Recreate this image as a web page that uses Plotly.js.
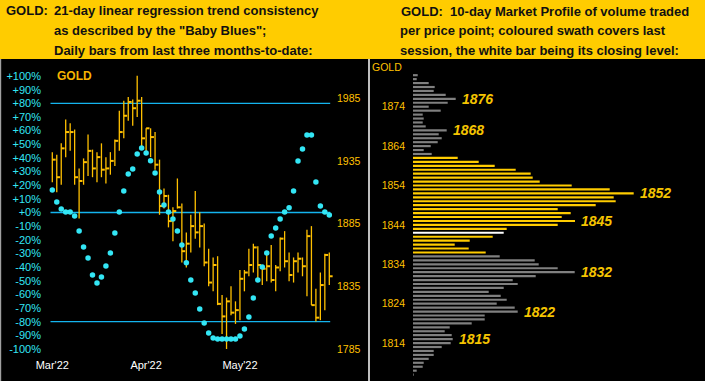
<!DOCTYPE html>
<html><head><meta charset="utf-8">
<script src="https://cdn.plot.ly/plotly-3.0.1.min.js"></script>
<style>html,body{margin:0;padding:0;background:#000;} #chart{width:705px;height:381px;}</style>
</head><body><div id="chart"></div>
<script>
// ---- Left panel data: daily bars (price) and "Baby Blues" (%) ----
const monthLabels = ["Mar'22", "Apr'22", "May'22"];
const monthStartIndex = [0, 21, 42];

const high = [1942,1940,1949,1968,1965,1960,1929,1937,1956,1944,1942,1949,1938,1942,1952,1975,1983,1986,1984,2003,1986,
              1961,1961,1958,1936,1913,1908,1898,1921,1901,1878,1892,1911,1894,1885,1865,1858,1859,1828,1826,1835,1823,
              1848,1848,1865,1869,1867,1852,1862,1868,1852,1874,1879,1862,1858,1862,1858,1880,1883,1833,1846,1861,1862];
const low  = [1918,1910,1916,1938,1943,1916,1889,1916,1923,1922,1918,1922,1917,1924,1931,1943,1953,1967,1963,1970,1946,
              1942,1938,1928,1892,1897,1882,1871,1897,1854,1850,1862,1873,1866,1851,1835,1831,1820,1797,1785,1812,1805,
              1808,1831,1843,1846,1839,1836,1839,1838,1831,1847,1850,1839,1838,1846,1843,1827,1820,1807,1808,1816,1836];
const close = [1936,1922,1945,1958,1958,1922,1919,1934,1943,1929,1938,1928,1929,1935,1951,1958,1971,1982,1977,1983,1953,
               1961,1954,1932,1899,1907,1887,1895,1898,1863,1869,1883,1878,1883,1854,1838,1852,1821,1811,1823,1814,1816,
               1841,1846,1852,1866,1852,1849,1851,1840,1850,1873,1855,1844,1855,1857,1851,1875,1820,1810,1836,1860,1843];
const babyBlues = [16.5,7.7,2.6,0.4,0.4,-2.6,-13.6,-25.3,-33.3,-45.8,-51.6,-47.3,-39.2,-29.7,-15.0,0.4,15.7,28.2,31.9,42.9,47.3,
                   43.6,38.0,28.9,15.0,5.5,0.4,-4.8,-13.6,-23.8,-36.8,-49.5,-59.0,-70.7,-81.0,-88.3,-91.9,-92.7,-92.7,-92.7,-92.7,-92.7,
                   -90.5,-85.3,-76.6,-62.6,-49.5,-39.9,-29.7,-17.2,-11.4,-4.8,0.4,3.5,15.7,37.7,46.5,56.8,56.8,22.3,4.8,0.4,-1.8];
const pctTicks = [100,90,80,70,60,50,40,30,20,10,0,-10,-20,-30,-40,-50,-60,-70,-80,-90,-100];
const pctTickText = ["+100%","+90%","+80%","+70%","+60%","+50%","+40%","+30%","+20%","+10%","+0%",
                     "-10%","-20%","-30%","-40%","-50%","-60%","-70%","-80%","-90%","-100%"];
const pctLevels = [80, 0, -80];
const priceTicks = [1785, 1835, 1885, 1935, 1985];

// ---- Right panel data: 10-day market profile ----
const profilePrice = [1882,1881,1880,1879,1878,1877,1876,1875,1874,1873,1872,1871,1870,1869,1868,1867,1866,1865,1864,1863,
                      1862,1861,1860,1859,1858,1857,1856,1855,1854,1853,1852,1851,1850,1849,1848,1847,1846,1845,1844,1843,
                      1842,1841,1840,1839,1838,1837,1836,1835,1834,1833,1832,1831,1830,1829,1828,1827,1826,1825,1824,1823,
                      1822,1821,1820,1819,1818,1817,1816,1815,1814,1813,1812,1811,1810,1809,1808,1807,1806];
const profileVolume = [4.7,3.7,15.7,21.7,20.7,32.7,42.7,34.7,15.7,27.7,9.7,10.7,9.7,12.7,33.7,25.7,28.7,24.7,17.7,10.7,
                       18.7,44.7,65.7,81.7,102.7,117.7,119.7,126.7,158.7,196.7,220.7,200.7,202.7,182.7,144.7,157.7,148.7,162,144.7,93.7,
                       90.7,79.7,56.7,41.7,55.7,72.7,86.7,121.7,125.7,144.7,161.7,122.7,99.7,104.7,90.7,75.7,87.7,93.7,83.7,101.7,
                       104.7,71.7,71.7,58.7,36.7,31.7,38.7,39.7,37.7,28.7,20.7,20.7,15.7,10.7,9.7,3.7,0.7];
const sessionHigh = 1861, sessionLow = 1837, sessionClose = 1842;
const profileLabels = [1876, 1868, 1852, 1845, 1832, 1822, 1815];
const profileTicks = [1814, 1824, 1834, 1844, 1854, 1864, 1874];

// ---- Styles ----
const GOLD = '#FFC000', CYAN = '#33E6F5', LINEBLUE = '#14B4EE', YEL = '#FFCC00', GREY = '#808080';
const FONT = 'Liberation Sans, Arial, sans-serif';

const idx = close.map((_, i) => i);
const vx = [], vy = [], tx = [], ty = [];
idx.forEach(i => {
  vx.push(i, i, null); vy.push(low[i], high[i], null);
  tx.push(i, i + 0.75, null); ty.push(close[i], close[i], null);
});

const profileColors = profilePrice.map(p =>
  p === sessionClose ? '#FFFFFF' : (p <= sessionHigh && p >= sessionLow ? YEL : GREY));

const traces = [
  {type:'scatter', mode:'lines', x:vx, y:vy, xaxis:'x', yaxis:'y', line:{color:GOLD, width:1.3}, hoverinfo:'skip'},
  {type:'scatter', mode:'lines', x:tx, y:ty, xaxis:'x', yaxis:'y', line:{color:GOLD, width:2}, hoverinfo:'skip'},
  {type:'scatter', mode:'markers', x:idx, y:babyBlues, xaxis:'x', yaxis:'y2', marker:{symbol:'circle', size:5.5, color:CYAN}, hoverinfo:'skip'},
  {type:'bar', orientation:'h', x:profileVolume, y:profilePrice, width:0.55, xaxis:'x2', yaxis:'y3', marker:{color:profileColors, line:{width:0}}, hoverinfo:'skip'}
];

const py = y => 1 - y / 381;
const shapes = [
  {type:'rect', xref:'paper', yref:'paper', x0:0, x1:1, y0:py(59), y1:1, fillcolor:YEL, line:{width:0}, layer:'below'},
  {type:'line', xref:'paper', yref:'paper', x0:369/705, x1:369/705, y0:0, y1:py(59), line:{color:'#FFFFFF', width:1.5}},
  {type:'line', xref:'paper', yref:'paper', x0:0.6/705, x1:0.6/705, y0:0, y1:py(59), line:{color:'#A0A0A0', width:1.2}}
];
pctLevels.forEach(v => shapes.push({type:'line', xref:'x', yref:'y2', x0:-0.4, x1:62.2, y0:v, y1:v, line:{color:LINEBLUE, width:1.3}, layer:'below'}));

const hdr = {family:FONT, size:13, color:'#111111', weight:'bold'};
const annotations = [
  {xref:'paper', yref:'paper', x:4/705, y:py(11), xanchor:'left', yanchor:'middle', showarrow:false, text:'<b>GOLD:</b>', font:hdr},
  {xref:'paper', yref:'paper', x:52/705, y:py(11), xanchor:'left', yanchor:'middle', showarrow:false, text:'<b>21-day linear regression trend consistency</b>', font:hdr},
  {xref:'paper', yref:'paper', x:52/705, y:py(30.5), xanchor:'left', yanchor:'middle', showarrow:false, text:'<b>as described by the "Baby Blues";</b>', font:hdr},
  {xref:'paper', yref:'paper', x:52/705, y:py(50.5), xanchor:'left', yanchor:'middle', showarrow:false, text:'<b>Daily bars from last three months-to-date:</b>', font:hdr},
  {xref:'paper', yref:'paper', x:399/705, y:py(11.5), xanchor:'left', yanchor:'middle', showarrow:false, text:'<b>GOLD:\u00A0\u00A010-day Market Profile of volume traded</b>', font:hdr},
  {xref:'paper', yref:'paper', x:398/705, y:py(30.5), xanchor:'left', yanchor:'middle', showarrow:false, text:'<b>per price point; coloured swath covers last</b>', font:hdr},
  {xref:'paper', yref:'paper', x:398/705, y:py(50), xanchor:'left', yanchor:'middle', showarrow:false, text:'<b>session, the white bar being its closing level:</b>', font:hdr},
  {xref:'paper', yref:'paper', x:55/705, y:py(76), xanchor:'left', yanchor:'middle', showarrow:false, text:'<b>GOLD</b>', font:{family:FONT, size:12, color:'#F5B400'}},
  {xref:'paper', yref:'paper', x:404/705, y:py(67), xanchor:'right', yanchor:'middle', showarrow:false, text:'GOLD', font:{family:FONT, size:10.5, color:GOLD}}
];
profileLabels.forEach(p => {
  const v = profileVolume[profilePrice.indexOf(p)];
  annotations.push({xref:'x2', yref:'y3', x:v, y:p, xanchor:'left', yanchor:'middle', xshift:4, showarrow:false,
    text:'<b><i>' + p + '</i></b>', font:{family:FONT, size:14, color:'#F5C400'}});
});

const layout = {
  width:705, height:381, margin:{l:0, r:0, t:0, b:0}, paper_bgcolor:'#000', plot_bgcolor:'rgba(0,0,0,0)',
  showlegend:false, font:{family:FONT},
  xaxis:{domain:[45/705, 336/705], range:[-1.634, 63.5], anchor:'y', tickvals:monthStartIndex, ticktext:monthLabels,
         tickfont:{color:'#FFFFFF', size:11, family:FONT}, showgrid:false, zeroline:false, showline:false, ticks:'', ticklabelstandoff:2},
  yaxis:{domain:[py(355), py(70)], range:[1780.22, 2007.49], side:'right', anchor:'x', tickvals:priceTicks,
         tickfont:{color:GOLD, size:10.5, family:FONT}, showgrid:false, zeroline:false, showline:false, ticks:''},
  yaxis2:{overlaying:'y', side:'left', anchor:'x', range:[-104.4, 104.4], tickvals:pctTicks, ticktext:pctTickText,
          tickfont:{color:CYAN, size:11, family:FONT}, showgrid:false, zeroline:false, showline:false, ticks:'', ticklabelstandoff:3},
  xaxis2:{domain:[413/705, 703/705], range:[0, 290], anchor:'y3', visible:false},
  yaxis3:{domain:[py(380), py(62)], range:[1804.63, 1885.35], anchor:'x2', tickvals:profileTicks,
          tickfont:{color:GOLD, size:10.5, family:FONT}, showgrid:false, zeroline:false, showline:false, ticks:'', ticklabelstandoff:7},
  shapes:shapes, annotations:annotations
};

Plotly.newPlot('chart', traces, layout, {displayModeBar:false, staticPlot:true});
</script>
</body></html>
